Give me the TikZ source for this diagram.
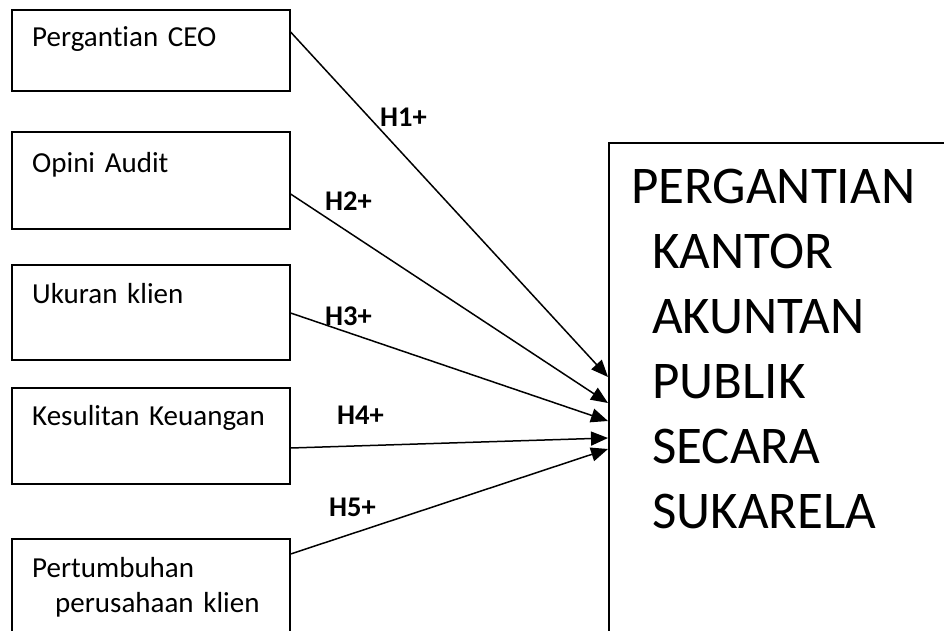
\documentclass[tikz,border=0pt]{standalone}
\usepackage{fontspec}
\setmainfont{Carlito}[Ligatures=NoCommon]
\usetikzlibrary{arrows.meta, positioning}

\begin{document}
\begin{tikzpicture}[x=1pt, y=-1pt,
      box/.style={draw, line width=1.6pt, minimum width=278pt, anchor=north west, inner sep=0pt},
      txt/.style={anchor=base west, inner sep=0pt, text width=250pt, align=left,
                  font=\fontsize{29}{35}\selectfont},
      lbl/.style={anchor=base west, inner sep=0pt, font=\fontsize{28.5}{33}\selectfont\bfseries},
      arr/.style={-{Triangle[length=17pt, width=14pt]}, line width=1.5pt}]
    \useasboundingbox (0,0) rectangle (944,631);
    \clip (0,0) rectangle (944,631);
    % left boxes
    \node[box, minimum height=81pt] (ceo) at (11,9) {};
    \node[box, minimum height=97pt] (opini) at (11,131) {};
    \node[box, minimum height=95pt] (ukuran) at (11,264) {};
    \node[box, minimum height=96pt] (sulit) at (11,387) {};
    \node[box, minimum height=120pt] (tumbuh) at (11,538) {};
    \node[txt] at ([shift={(21,38)}]ceo.north west) {Pergantian CEO};
    \node[txt] at ([shift={(21,41)}]opini.north west) {Opini Audit};
    \node[txt] at ([shift={(21,39)}]ukuran.north west) {Ukuran klien};
    \node[txt] at ([shift={(21,38)}]sulit.north west) {Kesulitan Keuangan};
    \node[txt] at ([shift={(21,39)}]tumbuh.north west) {Pertumbuhan\\\hspace*{23pt}perusahaan klien};
    % dependent variable
    \node[box, minimum width=400pt, minimum height=600pt] (kap) at (608,142) {};
    \node[txt, text width=320pt, font=\fontsize{53}{65}\selectfont] at ([shift={(23,61)}]kap.north west)
      {PERGANTIAN\\\hspace*{21pt}KANTOR\\\hspace*{21pt}AKUNTAN\\\hspace*{21pt}PUBLIK\\\hspace*{21pt}SECARA\\\hspace*{21pt}SUKARELA};
    % hypotheses
    \draw[arr] ([yshift=-23pt]ceo.north east) -- ([yshift=-235pt]kap.north west);
    \draw[arr] ([yshift=-63pt]opini.north east) -- ([yshift=-261pt]kap.north west);
    \draw[arr] ([yshift=-49pt]ukuran.north east) -- ([yshift=-279pt]kap.north west);
    \draw[arr] ([yshift=-61pt]sulit.north east) -- ([yshift=-296pt]kap.north west);
    \draw[arr] ([yshift=-16pt]tumbuh.north east) -- ([yshift=-307pt]kap.north west);
    \node[lbl] (h1) at (380,127) {H1+};
    \node[lbl] (h2) at (325,210) {H2+};
    \node[lbl] (h3) at (325,325) {H3+};
    \node[lbl] (h4) at (337,424) {H4+};
    \node[lbl] (h5) at (329,516) {H5+};
  \end{tikzpicture}
\end{document}
